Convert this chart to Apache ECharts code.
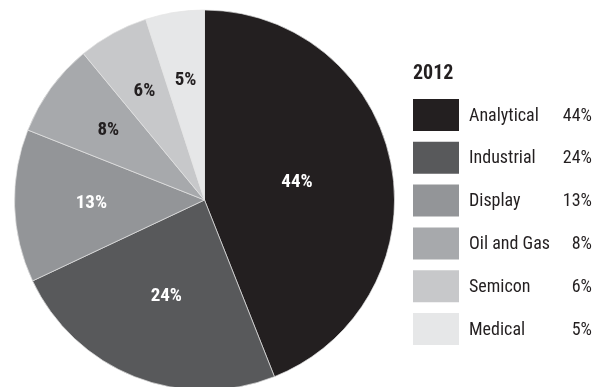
<!DOCTYPE html>
<html>
<head>
<meta charset="utf-8">
<script src="https://cdn.jsdelivr.net/npm/echarts@6/dist/echarts.min.js"></script>
<style>
  html, body { margin: 0; padding: 0; background: #fff; }
  #chart { width: 607px; height: 387px; }
</style>
</head>
<body>
<div id="chart"></div>
<script>
// Market share by segment, 2012
const year = '2012';
const segments = ['Analytical', 'Industrial', 'Display', 'Oil and Gas', 'Semicon', 'Medical'];
const shares = [44, 24, 13, 8, 6, 5];

// Styling
const sliceColors = ['#231f20', '#58595b', '#939598', '#a7a9ac', '#c7c8ca', '#e6e7e8'];
const labelColors = ['#ffffff', '#ffffff', '#ffffff', '#231f20', '#231f20', '#231f20'];
const labelRadiusFrac = [0.48, 0.53, 0.58, 0.61, 0.64, 0.62];
const FONT = '"Roboto Condensed", "Liberation Sans Narrow", "Roboto", sans-serif';
const CENTER = [204.5, 200];
const RADIUS = 190;

const total = shares.reduce((a, b) => a + b, 0);
// Mid-angle of each slice (clockwise from 12 o'clock), used to push labels along the radius
const midAngles = [];
let acc = 0;
shares.forEach(v => {
  midAngles.push((90 - (acc + v / 2) / total * 360) * Math.PI / 180);
  acc += v;
});

const chart = echarts.init(document.getElementById('chart'), null, { renderer: 'canvas' });

chart.setOption({
  animation: false,
  backgroundColor: '#ffffff',
  title: {
    text: year,
    left: 408,
    top: 59,
    textStyle: { fontFamily: FONT, fontSize: 20, fontWeight: 'bold', color: '#231f20' }
  },
  legend: {
    orient: 'vertical',
    left: 413,
    top: 99,
    padding: 0,
    itemWidth: 46,
    itemHeight: 32,
    itemGap: 10.8,
    icon: 'rect',
    itemStyle: { borderWidth: 0 },
    selectedMode: false,
    data: segments,
    formatter: name => '{n|' + name + '}{p|' + shares[segments.indexOf(name)] + '%}',
    textStyle: {
      fontFamily: FONT,
      fontSize: 18,
      color: '#231f20',
      padding: [2, 0, 0, 5],
      rich: {
        n: { fontFamily: FONT, fontSize: 18, color: '#231f20', width: 91, lineHeight: 22 },
        p: { fontFamily: FONT, fontSize: 18, color: '#231f20', width: 32, align: 'right', lineHeight: 22 }
      }
    }
  },
  series: [{
    type: 'pie',
    center: CENTER,
    radius: RADIUS,
    startAngle: 90,
    clockwise: true,
    avoidLabelOverlap: false,
    silent: true,
    itemStyle: { borderColor: '#e4e4e4', borderWidth: 0.7 },
    label: {
      position: 'inside',
      fontFamily: FONT,
      fontSize: 19,
      fontWeight: 'bold',
      formatter: p => p.value + '%'
    },
    labelLine: { show: false },
    labelLayout: params => {
      const i = params.dataIndex;
      const extra = (labelRadiusFrac[i] - 0.5) * RADIUS;
      return {
        dx: Math.cos(midAngles[i]) * extra,
        dy: -Math.sin(midAngles[i]) * extra
      };
    },
    data: segments.map((name, i) => ({
      name: name,
      value: shares[i],
      itemStyle: { color: sliceColors[i] },
      label: { color: labelColors[i] }
    }))
  }]
});
</script>
</body>
</html>
